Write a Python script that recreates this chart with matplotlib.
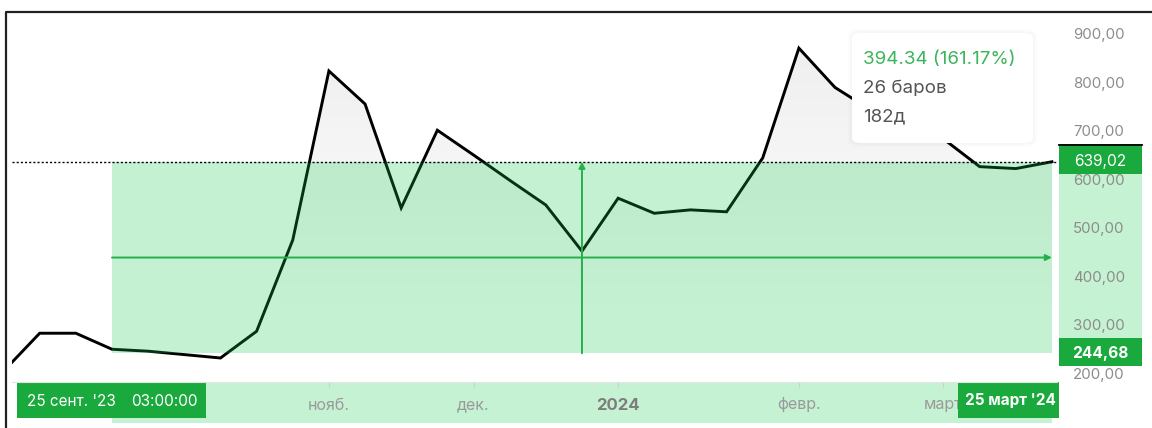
import matplotlib.pyplot as plt
import matplotlib.transforms as mtransforms
from matplotlib.patches import Rectangle, FancyBboxPatch
from matplotlib.lines import Line2D
import numpy as np

plt.rcParams['font.family'] = ['Inter', 'DejaVu Sans']

# weekly bars, 4 Sep 2023 .. 25 Mar 2024
dates = ["04.09.23", "11.09.23", "18.09.23", "25.09.23", "02.10.23", "09.10.23",
         "16.10.23", "23.10.23", "30.10.23", "06.11.23", "13.11.23", "20.11.23",
         "27.11.23", "04.12.23", "11.12.23", "18.12.23", "25.12.23", "01.01.24",
         "08.01.24", "15.01.24", "22.01.24", "29.01.24", "05.02.24", "12.02.24",
         "19.02.24", "26.02.24", "04.03.24", "11.03.24", "18.03.24", "25.03.24"]
closes = [208, 286, 286, 253, 249, 242, 235, 290, 478, 826, 758, 544,
          704, 653, 601, 550, 455, 564, 533, 540, 536, 647, 873, 792,
          745, 716, 686, 629, 625, 639.02]

price_ticks = [200, 300, 400, 500, 600, 700, 800, 900]
month_labels = ["нояб.", "дек.", "2024", "февр.", "март"]
month_idx = [9, 13, 17, 22, 26]

start_idx, end_idx = 3, 29
low_price, high_price = 244.68, 639.02
mid_idx = (start_idx + end_idx) // 2
bars = end_idx - start_idx
days = 182
change = high_price - low_price
change_pct = change / low_price * 100

W, H = 1152, 428
fig = plt.figure(figsize=(W / 100, H / 100), dpi=100)


def fx(px):
    return px / W


def fy(py):
    return 1 - py / H


def fig_box(x0, y0, x1, y1, **kw):
    # rectangle given in pixel coords (top-left origin)
    return Rectangle((fx(x0), fy(y1)), fx(x1) - fx(x0), fy(y0) - fy(y1),
                     transform=fig.transFigure, clip_on=False, **kw)


ax = fig.add_axes([fx(12), fy(380), fx(1057) - fx(12), fy(12) - fy(380)])
x = np.arange(len(closes))
ax.set_xlim(0.234, 29.14)
ax.set_ylim(189.7, 947.4)
ax.axis('off')

# soft gray gradient under the line
grad = np.zeros((256, 2, 4))
alpha = np.clip((np.linspace(947.4, 189.7, 256) - 280) / (900 - 280), 0, 1) * 0.07
grad[:, :, 3] = alpha[:, None]
poly = ax.fill_between(x, closes, 189.7, facecolor='none', edgecolor='none')
im = ax.imshow(grad, extent=[0.234, 29.14, 189.7, 947.4], aspect='auto',
               zorder=2, interpolation='bilinear')
im.set_clip_path(poly.get_paths()[0], transform=ax.transData)

ax.plot(x, closes, color='black', lw=2.1, zorder=3, solid_joinstyle='miter')

# measurement range
ax.add_patch(Rectangle((start_idx, low_price), end_idx - start_idx, change,
                       facecolor='#17cb4f', alpha=0.25, edgecolor='none', zorder=4))
ax.axhline(high_price, color='black', lw=1.0, ls=(0, (1.5, 1.5)), zorder=5)
mid_price = (low_price + high_price) / 2
ax.annotate('', xy=(end_idx, mid_price), xytext=(start_idx, mid_price),
            arrowprops=dict(arrowstyle='-|>', color='#25b04a', lw=1.4,
                            mutation_scale=9, shrinkA=0, shrinkB=0), zorder=6)
ax.annotate('', xy=(mid_idx, high_price), xytext=(mid_idx, low_price),
            arrowprops=dict(arrowstyle='-|>', color='#25b04a', lw=1.4,
                            mutation_scale=9, shrinkA=0, shrinkB=0), zorder=6)

# price scale
tr_price = mtransforms.blended_transform_factory(fig.transFigure, ax.transData)
ax.add_patch(Rectangle((fx(1059), low_price), fx(1142) - fx(1059), change,
                       transform=tr_price, facecolor='#c5f2d3', edgecolor='none',
                       clip_on=False, zorder=1))
for p in price_ticks:
    ax.text(fx(1099), p, f"{p:.2f}".replace('.', ','), transform=tr_price,
            ha='center', va='center', fontsize=10.8, color='#8c8c8c',
            clip_on=False, zorder=2)
for p, py0, py1 in [(high_price, 144, 174), (low_price, 338, 366)]:
    ax.add_patch(fig_box(1059, py0, 1142, py1, facecolor='#19a93c',
                         edgecolor='none', zorder=7))
    ax.text(fx(1100), p, f"{p:.2f}".replace('.', ','), transform=tr_price,
            ha='center', va='center', fontsize=11.2, color='white',
            fontweight='bold' if p == low_price else 'normal', clip_on=False, zorder=8)
fig.add_artist(Line2D([fx(1059), fx(1142)], [fy(145), fy(145)], color='black', lw=1.3))

# time scale
tr_time = mtransforms.blended_transform_factory(ax.transData, fig.transFigure)
ax.add_patch(Rectangle((start_idx, fy(423)), end_idx - start_idx, fy(382) - fy(423),
                       transform=tr_time, facecolor='#c5f2d3', edgecolor='none',
                       clip_on=False, zorder=1))
fig.add_artist(Line2D([fx(12), fx(1057)], [fy(381.5), fy(381.5)], color='#e4e4e4', lw=0.8))
for lab, i in zip(month_labels, month_idx):
    bold = lab == "2024"
    ax.text(i, fy(405), lab, transform=tr_time, ha='center', va='center',
            fontsize=12 if bold else 11.5, color='#7d7d7d' if bold else '#9a9a9a',
            fontweight='bold' if bold else 'normal', clip_on=False, zorder=2)
    ax.plot([i, i], [fy(382), fy(387)], transform=tr_time, color='#cfcfcf',
            lw=0.8, clip_on=False, zorder=2)

ax.add_patch(fig_box(17, 382, 206, 418, facecolor='#19a93c', edgecolor='none', zorder=7))
ax.text(fx(27), fy(401), "25 сент. '23", transform=fig.transFigure, ha='left',
        va='center', fontsize=11, color='white', clip_on=False, zorder=8)
ax.text(fx(198), fy(401), "03:00:00", transform=fig.transFigure, ha='right',
        va='center', fontsize=11, color='white', clip_on=False, zorder=8)
ax.add_patch(fig_box(958, 382, 1059, 418, facecolor='#19a93c', edgecolor='none', zorder=7))
ax.text(fx(1010), fy(401), "25 март '24", transform=fig.transFigure, ha='center',
        va='center', fontsize=11, color='white', fontweight='bold',
        clip_on=False, zorder=8)

# tooltip
for off, a in [(4, 0.012), (2, 0.018)]:
    ax.add_patch(FancyBboxPatch((fx(852 - off), fy(143 + off)), fx(181 + 2 * off),
                                fy(33 - off) - fy(143 + off),
                                boxstyle='round,pad=0,rounding_size=0.012',
                                transform=fig.transFigure, facecolor='black',
                                alpha=a, edgecolor='none', clip_on=False, zorder=8))
ax.add_patch(FancyBboxPatch((fx(852), fy(143)), fx(181), fy(33) - fy(143),
                            boxstyle='round,pad=0,rounding_size=0.01',
                            transform=fig.transFigure, facecolor='white',
                            edgecolor='none', clip_on=False, zorder=9))
ax.text(fx(863), fy(60), f"{change:.2f} ({change_pct:.2f}%)", transform=fig.transFigure,
        ha='left', va='center', fontsize=13.5, color='#3bb55a', clip_on=False, zorder=10)
ax.text(fx(863), fy(89), f"{bars} баров", transform=fig.transFigure,
        ha='left', va='center', fontsize=13.5, color='#555555', clip_on=False, zorder=10)
ax.text(fx(863), fy(117), f"{days}д", transform=fig.transFigure,
        ha='left', va='center', fontsize=13.5, color='#555555', clip_on=False, zorder=10)

# screenshot frame
fig.add_artist(Line2D([fx(5.5), fx(5.5), fx(1152)], [fy(428), fy(11.5), fy(11.5)],
                      color='#222222', lw=1.6))

fig.savefig('out.png', dpi=100)
